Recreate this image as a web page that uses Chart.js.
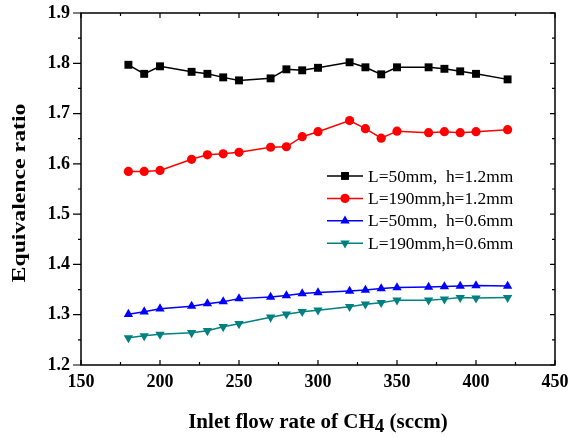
<!DOCTYPE html>
<html>
<head>
<meta charset="utf-8">
<script src="https://cdn.jsdelivr.net/npm/chart.js@4.4.0/dist/chart.umd.min.js"></script>
<style>
  html, body { margin: 0; padding: 0; background: #fff; }
</style>
</head>
<body>
<canvas id="grafico" width="570" height="437"></canvas>
<script>
const flowRates = [180, 190, 200, 220, 230, 240, 250, 270, 280, 290, 300, 320, 330, 340, 350, 370, 380, 390, 400, 420];

const ratioL50h12 = [1.797, 1.779, 1.794, 1.783, 1.779, 1.772, 1.766, 1.770, 1.788, 1.786, 1.791, 1.802, 1.792, 1.778, 1.792, 1.792, 1.789, 1.784, 1.779, 1.768];
const ratioL190h12 = [1.585, 1.585, 1.587, 1.609, 1.618, 1.620, 1.623, 1.633, 1.634, 1.654, 1.664, 1.686, 1.670, 1.651, 1.665, 1.662, 1.664, 1.662, 1.664, 1.668];
const ratioL50h06 = [1.301, 1.306, 1.312, 1.317, 1.322, 1.326, 1.332, 1.335, 1.338, 1.342, 1.344, 1.347, 1.349, 1.352, 1.354, 1.355, 1.356, 1.357, 1.358, 1.357];
const ratioL190h06 = [1.254, 1.258, 1.261, 1.264, 1.268, 1.276, 1.282, 1.295, 1.301, 1.306, 1.309, 1.316, 1.321, 1.324, 1.329, 1.329, 1.331, 1.334, 1.333, 1.334];

const seriesLabels = ['L=50mm,  h=1.2mm', 'L=190mm,h=1.2mm', 'L=50mm,  h=0.6mm', 'L=190mm,h=0.6mm'];
const xTickValues = [150, 200, 250, 300, 350, 400, 450];
const yTickValues = [1.2, 1.3, 1.4, 1.5, 1.6, 1.7, 1.8, 1.9];

const xTitle = ['Inlet flow rate of CH', '4', ' (sccm)'];
const yTitle = 'Equivalence ratio';

const SERIF = '"Liberation Serif", "Times New Roman", serif';

function pairs(ys) {
  return flowRates.map((x, i) => ({ x, y: ys[i] }));
}

function serie(label, ys, color, style, radius, rotation) {
  return {
    label,
    data: pairs(ys),
    borderColor: color,
    backgroundColor: color,
    borderWidth: 1.5,
    pointStyle: style,
    pointRadius: radius,
    pointHoverRadius: radius,
    pointRotation: rotation || 0,
    pointBorderWidth: 0,
    tension: 0
  };
}

// frame, inward/outward ticks, titles and the legend box
const frameAndDecor = {
  id: 'frameAndDecor',
  afterDraw(chart) {
    const ctx = chart.ctx;
    const a = chart.chartArea;
    const xs = chart.scales.x;
    const ys = chart.scales.y;
    ctx.save();
    ctx.strokeStyle = '#000';
    ctx.lineWidth = 1.5;
    ctx.strokeRect(a.left, a.top, a.right - a.left, a.bottom - a.top);

    ctx.lineWidth = 1.2;
    ctx.beginPath();
    // x ticks: major + minor, bottom and top, pointing inward
    for (let i = 0; i < xTickValues.length; i++) {
      const v = xTickValues[i];
      const px = xs.getPixelForValue(v);
      ctx.moveTo(px, a.bottom); ctx.lineTo(px, a.bottom - 5);
      ctx.moveTo(px, a.top); ctx.lineTo(px, a.top + 5);
      if (i < xTickValues.length - 1) {
        const mx = xs.getPixelForValue((v + xTickValues[i + 1]) / 2);
        ctx.moveTo(mx, a.bottom); ctx.lineTo(mx, a.bottom - 3);
        ctx.moveTo(mx, a.top); ctx.lineTo(mx, a.top + 3);
      }
    }
    // y ticks: left outward, right inward
    for (let i = 0; i < yTickValues.length; i++) {
      const v = yTickValues[i];
      const py = ys.getPixelForValue(v);
      ctx.moveTo(a.left, py); ctx.lineTo(a.left - 8, py);
      ctx.moveTo(a.right, py); ctx.lineTo(a.right - 5, py);
      if (i < yTickValues.length - 1) {
        const my = ys.getPixelForValue((v + yTickValues[i + 1]) / 2);
        ctx.moveTo(a.left, my); ctx.lineTo(a.left - 3, my);
        ctx.moveTo(a.right, my); ctx.lineTo(a.right - 3, my);
      }
    }
    ctx.stroke();

    // axis titles
    ctx.fillStyle = '#000';
    ctx.textBaseline = 'alphabetic';
    ctx.textAlign = 'left';
    const big = 'bold 20px ' + SERIF;
    const sub = 'bold 18px ' + SERIF;
    ctx.font = big;
    const w0 = ctx.measureText(xTitle[0]).width;
    const w2 = ctx.measureText(xTitle[2]).width;
    ctx.font = sub;
    const w1 = ctx.measureText(xTitle[1]).width;
    const sx = 1.05;
    ctx.save();
    ctx.translate((a.left + a.right) / 2 - sx * (w0 + w1 + w2) / 2, 428);
    ctx.scale(sx, 1);
    ctx.font = big;
    ctx.fillText(xTitle[0], 0, 0);
    ctx.font = sub;
    ctx.fillText(xTitle[1], w0, 4);
    ctx.font = big;
    ctx.fillText(xTitle[2], w0 + w1, 0);
    ctx.restore();

    ctx.save();
    ctx.translate(20, 193);
    ctx.rotate(-Math.PI / 2);
    ctx.scale(1.25, 1);
    ctx.font = 'bold 19px ' + SERIF;
    ctx.textAlign = 'center';
    ctx.textBaseline = 'middle';
    ctx.fillText(yTitle, 0, 0);
    ctx.restore();

    // legend
    const lx = a.left + (a.right - a.left) * 0.519;
    const ly = a.top + (a.bottom - a.top) * 0.463;
    const rowH = 22.4;
    ctx.font = '17.4px ' + SERIF;
    ctx.textAlign = 'left';
    ctx.textBaseline = 'middle';
    chart.data.datasets.forEach((ds, i) => {
      const y = ly + i * rowH;
      ctx.strokeStyle = ds.borderColor;
      ctx.lineWidth = ds.borderWidth;
      ctx.beginPath();
      ctx.moveTo(lx, y);
      ctx.lineTo(lx + 36, y);
      ctx.stroke();
      ctx.fillStyle = ds.backgroundColor;
      Chart.helpers.drawPoint(ctx, {
        pointStyle: ds.pointStyle,
        radius: ds.pointRadius,
        rotation: ds.pointRotation,
        borderWidth: 0
      }, lx + 18, y);
      ctx.fillStyle = '#000';
      ctx.fillText(ds.label, lx + 41, y + 1);
    });
    ctx.restore();
  }
};

const ctx = document.getElementById('grafico').getContext('2d');

window.myChart = new Chart(ctx, {
  type: 'line',
  data: {
    datasets: [
      serie(seriesLabels[0], ratioL50h12, '#000000', 'rect', 5.6, 0),
      serie(seriesLabels[1], ratioL190h12, '#ff0000', 'circle', 4.6, 0),
      serie(seriesLabels[2], ratioL50h06, '#0000ff', 'triangle', 5.4, 0),
      serie(seriesLabels[3], ratioL190h06, '#008080', 'triangle', 5.4, 180)
    ]
  },
  options: {
    responsive: false,
    animation: false,
    devicePixelRatio: 1,
    layout: { padding: { left: 0, right: 15, top: 13, bottom: 0 } },
    plugins: {
      legend: { display: false },
      tooltip: { enabled: false },
      title: { display: false }
    },
    scales: {
      x: {
        type: 'linear',
        min: 150,
        max: 450,
        afterFit(scale) {
          scale.height = 72;
          scale.paddingLeft = 0;
          scale.paddingRight = 0;
        },
        afterBuildTicks(scale) { scale.ticks = xTickValues.map(v => ({ value: v })); },
        grid: { display: false, drawTicks: false },
        border: { display: false },
        ticks: {
          color: '#000',
          padding: 7,
          maxRotation: 0,
          font: { family: SERIF, size: 18, weight: 'bold' },
          callback: v => String(v)
        }
      },
      y: {
        type: 'linear',
        min: 1.2,
        max: 1.9,
        afterFit(scale) {
          scale.width = 81;
          scale.paddingTop = 0;
          scale.paddingBottom = 0;
        },
        afterBuildTicks(scale) { scale.ticks = yTickValues.map(v => ({ value: v })); },
        grid: { display: false, drawTicks: false },
        border: { display: false },
        ticks: {
          color: '#000',
          padding: 11,
          font: { family: SERIF, size: 18, weight: 'bold' },
          callback: v => Number(v).toFixed(1)
        }
      }
    }
  },
  plugins: [frameAndDecor]
});
</script>
</body>
</html>
